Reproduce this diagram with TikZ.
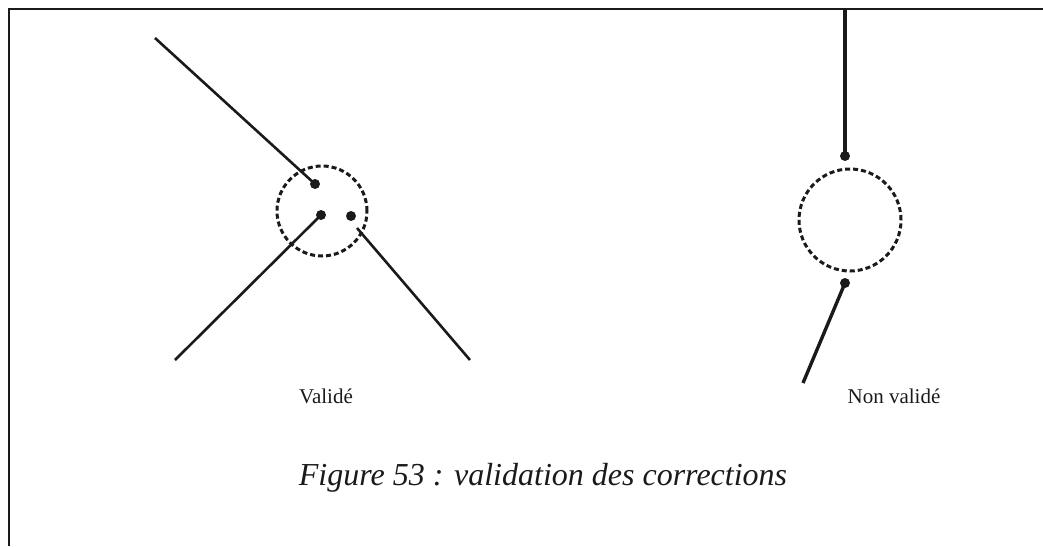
\documentclass[tikz,border=0pt]{standalone}
\usepackage{fontspec}
\setmainfont{Liberation Serif}
\usepackage{xcolor}
\definecolor{inkblack}{HTML}{1a1a1a}

\begin{document}
\begin{tikzpicture}[x=1pt,y=-1pt,
  dot/.style={circle,fill=inkblack,inner sep=0pt,minimum size=10pt},
  seg/.style={draw=inkblack,line width=2.6pt},
  segthick/.style={draw=inkblack,line width=3.4pt},
  ring/.style={circle,draw=inkblack,line width=3pt,dash pattern=on 5pt off 3pt,inner sep=0pt},
  lbl/.style={anchor=base,font=\fontsize{21}{24}\selectfont,text=inkblack}]
  \useasboundingbox (0,0) rectangle (1043,546);
  % frame (top and left edges only)
  \draw[inkblack,line width=2pt] (9,546) -- (9,9) -- (1043,9);
  % valid case
  \node[ring,minimum size=90pt] (lring) at (322,211) {};
  \node[dot] (va) at (315,184) {};
  \node[dot] (vb) at (321,215) {};
  \node[dot] (vc) at (351,216) {};
  \coordinate (vaend) at (155,38);
  \coordinate (vbend) at (175,360);
  \coordinate (vcstart) at (357,228);
  \coordinate (vcend) at (470,360);
  \draw[seg] (vaend) -- (va.center);
  \draw[seg] (vbend) -- (vb.center);
  \draw[seg] (vcstart) -- (vcend);
  \node[lbl] (vlbl) at (326,403) {Validé};
  % invalid case
  \node[ring,minimum size=102pt] (rring) at (850,220) {};
  \node[dot] (na) at (845,156) {};
  \node[dot] (nb) at (845,283) {};
  \coordinate (naend) at (845,10);
  \coordinate (nbend) at (803,383);
  \draw[segthick] (naend) -- (na.center);
  \draw[segthick] (nbend) -- (nb.center);
  \node[lbl] (nlbl) at (894,403) {Non validé};
  % caption
  \node[anchor=base,font=\fontsize{32}{36}\selectfont\itshape,text=inkblack] (cap) at (543,485) {Figure 53 : validation des corrections};
\end{tikzpicture}
\end{document}
